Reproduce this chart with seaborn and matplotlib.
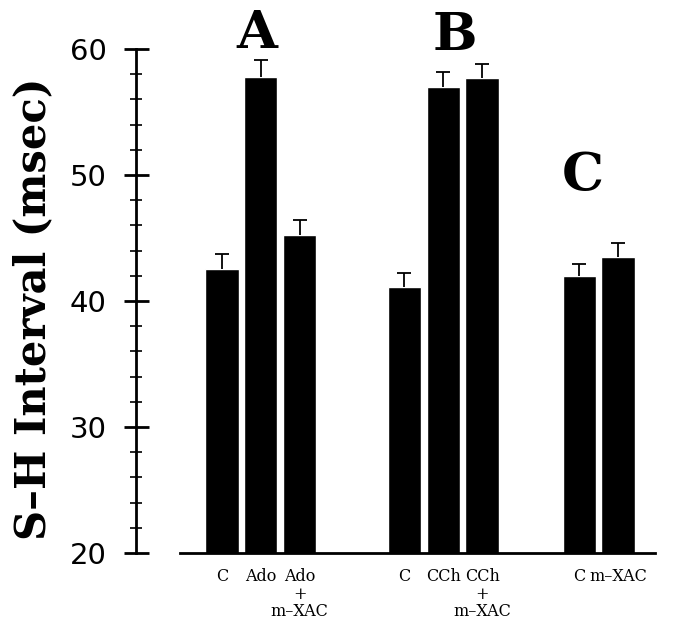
import numpy as np
import pandas as pd
import matplotlib
matplotlib.use("Agg")
import matplotlib.pyplot as plt
from matplotlib.ticker import MultipleLocator
import seaborn as sns

# data
labels = ["C", "Ado", "Ado", "C", "CCh", "CCh", "C", "m\u2013XAC"]
sublabels = ["", "", "+\nm\u2013XAC", "", "", "+\nm\u2013XAC", "", ""]
groups = ["A", "A", "A", "B", "B", "B", "C", "C"]
positions = [0.0, 1.0, 2.0, 4.7, 5.7, 6.7, 9.2, 10.2]
means = [42.5, 57.8, 45.2, 41.1, 57.0, 57.7, 42.0, 43.5]
sems = [1.2, 1.3, 1.2, 1.1, 1.2, 1.1, 0.9, 1.1]
group_letters = ["A", "B", "C"]
letter_x = [0.9, 6.0, 9.3]
letter_y = [60.1, 59.9, 48.8]

df = pd.DataFrame({"pos": positions, "interval": means, "group": groups})

sns.set_theme(style="white")
plt.rcParams["font.family"] = ["DejaVu Sans"]
plt.rcParams["text.color"] = "black"
plt.rcParams["axes.labelcolor"] = "black"
plt.rcParams["xtick.color"] = "black"
plt.rcParams["ytick.color"] = "black"

fig = plt.figure(figsize=(7, 6.32), dpi=100)
ax = fig.add_axes([180 / 700, 1 - 553 / 632, 475 / 700, 504 / 632])

sns.barplot(data=df, x="pos", y="interval", native_scale=True, width=0.86,
            color="black", saturation=1, errorbar=None, ax=ax)
eb = ax.errorbar(df["pos"], df["interval"], yerr=[np.zeros(len(sems)), sems],
                 fmt="none", ecolor="black", elinewidth=1.3, capsize=5, capthick=1.3)
# only the upper cap, like the original
eb[1][0].set_visible(False)

ax.set_ylim(20, 60)
ax.set_xlim(-1.08, 11.15)

# axes styling
for s in ["top", "right"]:
    ax.spines[s].set_visible(False)
ax.spines["left"].set_position(("outward", 32))
ax.spines["left"].set_linewidth(2)
ax.spines["bottom"].set_linewidth(2)
ax.spines["left"].set_color("black")
ax.spines["bottom"].set_color("black")

ax.yaxis.set_major_locator(MultipleLocator(10))
ax.yaxis.set_minor_locator(MultipleLocator(2))
ax.tick_params(axis="y", which="major", direction="inout", length=18, width=2,
               labelsize=21, pad=12, left=True)
ax.tick_params(axis="y", which="minor", direction="inout", length=8, width=1.2,
               left=True)

ax.set_xticks(positions)
ax.set_xticklabels(labels, fontsize=11.5, family="DejaVu Serif")
ax.tick_params(axis="x", length=0, pad=11)

# second and third lines of the combined-treatment labels
for x, sub in zip(positions, sublabels):
    if sub:
        ax.annotate(sub, xy=(x, 0), xycoords=("data", "axes fraction"),
                    xytext=(0, -24), textcoords="offset points",
                    ha="center", va="top", fontsize=11.5, linespacing=1.0,
                    family="DejaVu Serif", annotation_clip=False)

ax.set_xlabel("")
ax.set_ylabel("S\u2013H Interval (msec)", fontsize=30, fontweight="bold",
              family="DejaVu Serif")
ax.yaxis.set_label_coords(-0.265, 0.485)

for t, x, y in zip(group_letters, letter_x, letter_y):
    ax.text(x, y, t, ha="center", va="baseline", fontsize=38, fontweight="bold",
            family="DejaVu Serif", clip_on=False)

fig.savefig("out.png", dpi=100)
